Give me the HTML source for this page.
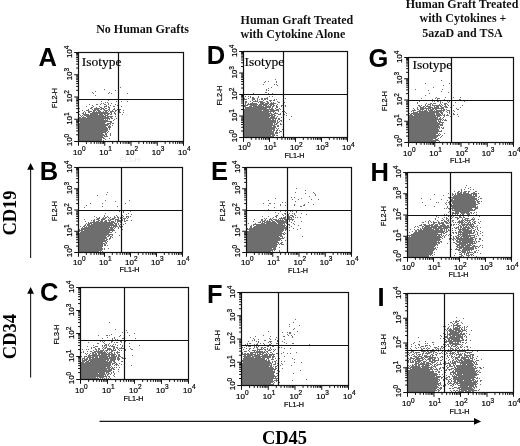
<!DOCTYPE html><html><head><meta charset="utf-8"><style>html,body{margin:0;padding:0;background:#fff;}svg{display:block;filter:blur(0.35px);}</style></head><body>
<svg width="520" height="446" viewBox="0 0 520 446">
<style>.t{font-family:"Liberation Sans",sans-serif;font-size:8px;fill:#000;stroke:#000;stroke-width:.2px}.s{font-size:6.5px}.a{font-family:"Liberation Sans",sans-serif;font-size:7.2px;fill:#000;stroke:#000;stroke-width:.2px;text-anchor:middle}.f{fill:#e6e6e6;stroke:none}</style>
<rect width="520" height="446" fill="#fff"/>
<g font-family="Liberation Serif, serif" font-weight="bold" font-size="12" fill="#111">
<text x="96.2" y="32.6">No Human Grafts</text>
<text x="240.6" y="23.8">Human Graft Treated</text>
<text x="240.6" y="38">with Cytokine Alone</text>
<text x="462" y="8" text-anchor="middle">Human Graft Treated</text>
<text x="463" y="22.3" text-anchor="middle">with Cytokines +</text>
<text x="462.5" y="36.5" text-anchor="middle">5azaD and TSA</text>
</g>
<g font-family="Liberation Sans, sans-serif" font-weight="bold" font-size="25.5" fill="#000">
<text x="38.5" y="65.8">A</text>
<text x="39.7" y="179.8">B</text>
<text x="40" y="301">C</text>
<text x="206.7" y="63.5">D</text>
<text x="211" y="180.3">E</text>
<text x="207" y="303">F</text>
<text x="368.5" y="67.2">G</text>
<text x="370.5" y="180.5">H</text>
<text x="377.5" y="305.8">I</text>
</g>
<g font-family="Liberation Serif, serif" font-weight="bold" font-size="18.5" fill="#000">
<text transform="translate(16 213) rotate(-90)" text-anchor="middle">CD19</text>
<text transform="translate(16 336.6) rotate(-90)" text-anchor="middle">CD34</text>
<text x="284.5" y="444.3" text-anchor="middle">CD45</text>
</g>
<path d="M30.6 258V168M30.6 377.6V292M99.5 421.4H475" stroke="#1a1a1a" stroke-width="1.1"/>
<path d="M30.6 163L27.2 169.8H34ZM30.6 287L27.2 293.8H34ZM481.1 421.4L474 418V424.8Z" fill="#000"/>
<path d="M120 87h1M104 89h1M115 90h1M95 91h1M92 92h1M109 92h1M93 93h1M108 93h1M111 93h1M127 93h1M95 95h1M108 100h1M101 101h1M116 101h1M121 101h1M127 101h1M105 102h1M107 102h1M101 103h1M103 103h1M108 103h1M111 103h1M89 104h1M96 104h2M100 104h1M104 104h2M108 104h1M115 104h1M118 104h1M92 105h1M106 105h1M110 105h1M117 105h1M86 106h1M93 106h1M99 106h1M104 106h3M108 106h1M113 106h2M121 106h1M91 107h2M96 107h1M100 107h2M104 107h1M108 107h2M79 108h1M90 108h2M94 108h6M101 108h3M105 108h2M109 108h1M114 108h1M88 109h1M92 109h1M94 109h5M100 109h2M103 109h2M108 109h2M113 109h2M117 109h1M119 109h2M82 110h1M86 110h3M93 110h3M97 110h3M104 110h4M109 110h1M112 110h1M115 110h2M119 110h1M123 110h1M79 111h1M84 111h1M88 111h4M93 111h2M96 111h1M98 111h3M103 111h1M105 111h2M108 111h1M110 111h4M115 111h1M119 111h1M83 112h1M85 112h1M88 112h2M92 112h16M110 112h2M114 112h1M119 112h2M123 112h1M82 113h2M85 113h1M90 113h20M111 113h1M114 113h2M79 114h1M83 114h6M90 114h8M99 114h4M104 114h2M107 114h2M110 114h2M115 114h1M118 114h1M122 114h1M80 115h1M82 115h1M84 115h20M105 115h3M81 116h1M83 116h1M86 116h20M107 116h6M115 116h1M79 117h2M82 117h4M87 117h22M110 117h2M79 118h31M111 118h2M116 118h1M118 118h1M79 119h25M105 119h1M107 119h1M109 119h1M114 119h1M79 120h29M113 120h1M79 121h33M80 122h26M110 122h2M79 123h26M107 123h4M112 123h2M79 124h30M110 124h1M79 125h29M109 125h1M112 125h1M79 126h27M108 126h3M79 127h28M108 127h3M79 128h29M109 128h1M79 129h29M109 129h1M79 130h29M79 131h28M108 131h1M79 132h27M107 132h1M79 133h24M105 133h2M110 133h1M79 134h25M105 134h2M110 134h1M79 135h26M106 135h1M110 135h1M79 136h24M104 136h4M79 137h25M79 138h23M103 138h2M109 138h1M79 139h23M105 139h1M79 140h23M103 140h1" stroke="#6e6e6e" stroke-width="1" fill="none" transform="translate(0 .5)" shape-rendering="crispEdges"/>
<path d="M78.5 141.5v4.3M78.5 141.5h-4.3M86.4 141.5v2.4M78.5 134.8h-2.4M91.02 141.5v2.4M78.5 130.88h-2.4M94.3 141.5v2.4M78.5 128.1h-2.4M96.85 141.5v2.4M78.5 125.95h-2.4M98.93 141.5v2.4M78.5 124.19h-2.4M100.68 141.5v2.4M78.5 122.7h-2.4M102.21 141.5v2.4M78.5 121.41h-2.4M103.55 141.5v2.4M78.5 120.27h-2.4M104.75 141.5v4.3M78.5 119.25h-4.3M112.65 141.5v2.4M78.5 112.55h-2.4M117.27 141.5v2.4M78.5 108.63h-2.4M120.55 141.5v2.4M78.5 105.85h-2.4M123.1 141.5v2.4M78.5 103.7h-2.4M125.18 141.5v2.4M78.5 101.94h-2.4M126.93 141.5v2.4M78.5 100.45h-2.4M128.46 141.5v2.4M78.5 99.16h-2.4M129.8 141.5v2.4M78.5 98.02h-2.4M131 141.5v4.3M78.5 97h-4.3M138.9 141.5v2.4M78.5 90.3h-2.4M143.52 141.5v2.4M78.5 86.38h-2.4M146.8 141.5v2.4M78.5 83.6h-2.4M149.35 141.5v2.4M78.5 81.45h-2.4M151.43 141.5v2.4M78.5 79.69h-2.4M153.18 141.5v2.4M78.5 78.2h-2.4M154.71 141.5v2.4M78.5 76.91h-2.4M156.05 141.5v2.4M78.5 75.77h-2.4M157.25 141.5v4.3M78.5 74.75h-4.3M165.15 141.5v2.4M78.5 68.05h-2.4M169.77 141.5v2.4M78.5 64.13h-2.4M173.05 141.5v2.4M78.5 61.35h-2.4M175.6 141.5v2.4M78.5 59.2h-2.4M177.68 141.5v2.4M78.5 57.44h-2.4M179.43 141.5v2.4M78.5 55.95h-2.4M180.96 141.5v2.4M78.5 54.66h-2.4M182.3 141.5v2.4M78.5 53.52h-2.4M183.5 141.5v4.3M78.5 52.5h-4.3" stroke="#111" stroke-width="1" fill="none"/>
<rect x="78.5" y="52.5" width="105" height="89" fill="none" stroke="#111" stroke-width="1.2"/>
<path d="M118.5 52.5V141.5M78.5 99.5H183.5" stroke="#111" stroke-width="1.2" fill="none"/>
<text class="t" x="73" y="154.5">10<tspan dy="-3.5" class="s">0</tspan></text>
<text class="t" x="99.25" y="154.5">10<tspan dy="-3.5" class="s">1</tspan></text>
<text class="t" x="125.5" y="154.5">10<tspan dy="-3.5" class="s">2</tspan></text>
<text class="t" x="151.75" y="154.5">10<tspan dy="-3.5" class="s">3</tspan></text>
<text class="t" x="178" y="154.5">10<tspan dy="-3.5" class="s">4</tspan></text>
<text class="t" transform="translate(72 146.3) rotate(-90)">10<tspan dy="-3.5" class="s">0</tspan></text>
<text class="t" transform="translate(72 124.85) rotate(-90)">10<tspan dy="-3.5" class="s">1</tspan></text>
<text class="t" transform="translate(72 102.6) rotate(-90)">10<tspan dy="-3.5" class="s">2</tspan></text>
<text class="t" transform="translate(72 80.35) rotate(-90)">10<tspan dy="-3.5" class="s">3</tspan></text>
<text class="t" transform="translate(72 58.1) rotate(-90)">10<tspan dy="-3.5" class="s">4</tspan></text>
<text class="a f" x="130" y="162">FL1-H</text>
<text class="a" transform="translate(56.5 98) rotate(-90)">FL2-H</text>
<text x="81.7" y="65.9" font-size="13.5" font-family="Liberation Serif, serif" fill="#000" stroke="#000" stroke-width=".15">Isotype</text>
<path d="M275 79h1M265 81h1M268 81h1M276 81h1M264 82h1M276 82h1M263 84h1M274 84h1M276 84h1M277 85h1M271 87h1M268 88h1M266 89h1M266 90h1M268 90h1M265 92h2M253 93h1M268 93h1M272 93h1M253 94h1M263 94h1M245 96h1M248 96h1M250 96h1M258 96h1M269 96h1M272 96h1M250 97h1M252 97h2M258 97h1M267 97h1M244 98h1M248 98h1M252 98h3M257 98h1M261 98h2M264 98h4M285 98h1M244 99h3M252 99h3M257 99h1M259 99h1M261 99h2M264 99h2M267 99h1M274 99h1M276 99h1M252 100h1M255 100h1M257 100h1M263 100h1M269 100h3M273 100h2M245 101h2M250 101h1M253 101h5M259 101h4M266 101h2M270 101h1M277 101h1M245 102h2M252 102h1M258 102h1M260 102h5M267 102h2M271 102h1M273 102h1M278 102h2M284 102h1M245 103h1M248 103h1M250 103h7M260 103h4M265 103h4M270 103h6M245 104h1M247 104h11M259 104h9M269 104h5M277 104h1M244 105h4M250 105h7M258 105h4M263 105h4M268 105h1M270 105h2M273 105h2M276 105h1M281 105h2M285 105h1M244 106h2M249 106h3M253 106h11M265 106h6M272 106h2M276 106h2M281 106h1M285 106h1M245 107h26M272 107h1M276 107h2M245 108h22M269 108h1M271 108h2M275 108h1M279 108h1M244 109h30M276 109h3M280 109h1M244 110h18M263 110h6M270 110h9M244 111h31M278 111h1M282 111h1M284 111h1M244 112h25M270 112h1M273 112h1M275 112h1M285 112h1M244 113h28M274 113h4M280 113h1M283 113h1M286 113h1M244 114h26M271 114h4M278 114h3M284 114h1M244 115h29M274 115h2M286 115h1M244 116h26M271 116h4M277 116h1M291 116h1M244 117h25M270 117h5M276 117h1M281 117h1M244 118h33M278 118h2M244 119h27M272 119h2M275 119h1M278 119h2M289 119h1M244 120h32M277 120h1M280 120h2M244 121h32M277 121h1M279 121h1M281 121h1M244 122h32M277 122h2M244 123h29M274 123h1M276 123h2M280 123h1M244 124h29M274 124h3M280 124h2M244 125h31M277 125h2M244 126h28M273 126h3M277 126h2M244 127h32M244 128h31M276 128h1M278 128h1M244 129h31M277 129h1M282 129h1M244 130h28M273 130h2M276 130h2M279 130h1M244 131h30M276 131h1M280 131h2M244 132h30M275 132h3M279 132h1M244 133h30M275 133h3M244 134h31M244 135h27M272 135h3M276 135h2M244 136h30M281 136h1" stroke="#6e6e6e" stroke-width="1" fill="none" transform="translate(0 .5)" shape-rendering="crispEdges"/>
<path d="M243.5 137.5v4.3M243.5 137.5h-4.3M251.33 137.5v2.4M243.5 131.03h-2.4M255.91 137.5v2.4M243.5 127.24h-2.4M259.15 137.5v2.4M243.5 124.56h-2.4M261.67 137.5v2.4M243.5 122.47h-2.4M263.73 137.5v2.4M243.5 120.77h-2.4M265.47 137.5v2.4M243.5 119.33h-2.4M266.98 137.5v2.4M243.5 118.08h-2.4M268.31 137.5v2.4M243.5 116.98h-2.4M269.5 137.5v4.3M243.5 116h-4.3M277.33 137.5v2.4M243.5 109.53h-2.4M281.91 137.5v2.4M243.5 105.74h-2.4M285.15 137.5v2.4M243.5 103.06h-2.4M287.67 137.5v2.4M243.5 100.97h-2.4M289.73 137.5v2.4M243.5 99.27h-2.4M291.47 137.5v2.4M243.5 97.83h-2.4M292.98 137.5v2.4M243.5 96.58h-2.4M294.31 137.5v2.4M243.5 95.48h-2.4M295.5 137.5v4.3M243.5 94.5h-4.3M303.33 137.5v2.4M243.5 88.03h-2.4M307.91 137.5v2.4M243.5 84.24h-2.4M311.15 137.5v2.4M243.5 81.56h-2.4M313.67 137.5v2.4M243.5 79.47h-2.4M315.73 137.5v2.4M243.5 77.77h-2.4M317.47 137.5v2.4M243.5 76.33h-2.4M318.98 137.5v2.4M243.5 75.08h-2.4M320.31 137.5v2.4M243.5 73.98h-2.4M321.5 137.5v4.3M243.5 73h-4.3M329.33 137.5v2.4M243.5 66.53h-2.4M333.91 137.5v2.4M243.5 62.74h-2.4M337.15 137.5v2.4M243.5 60.06h-2.4M339.67 137.5v2.4M243.5 57.97h-2.4M341.73 137.5v2.4M243.5 56.27h-2.4M343.47 137.5v2.4M243.5 54.83h-2.4M344.98 137.5v2.4M243.5 53.58h-2.4M346.31 137.5v2.4M243.5 52.48h-2.4M347.5 137.5v4.3M243.5 51.5h-4.3" stroke="#111" stroke-width="1" fill="none"/>
<rect x="243.5" y="51.5" width="104" height="86" fill="none" stroke="#111" stroke-width="1.2"/>
<path d="M283.5 51.5V137.5M243.5 94.5H347.5" stroke="#111" stroke-width="1.2" fill="none"/>
<text class="t" x="238" y="150">10<tspan dy="-3.5" class="s">0</tspan></text>
<text class="t" x="264" y="150">10<tspan dy="-3.5" class="s">1</tspan></text>
<text class="t" x="290" y="150">10<tspan dy="-3.5" class="s">2</tspan></text>
<text class="t" x="316" y="150">10<tspan dy="-3.5" class="s">3</tspan></text>
<text class="t" x="342" y="150">10<tspan dy="-3.5" class="s">4</tspan></text>
<text class="t" transform="translate(237 142.3) rotate(-90)">10<tspan dy="-3.5" class="s">0</tspan></text>
<text class="t" transform="translate(237 121.6) rotate(-90)">10<tspan dy="-3.5" class="s">1</tspan></text>
<text class="t" transform="translate(237 100.1) rotate(-90)">10<tspan dy="-3.5" class="s">2</tspan></text>
<text class="t" transform="translate(237 78.6) rotate(-90)">10<tspan dy="-3.5" class="s">3</tspan></text>
<text class="t" transform="translate(237 57.1) rotate(-90)">10<tspan dy="-3.5" class="s">4</tspan></text>
<text class="a" x="294.5" y="157.5">FL1-H</text>
<text class="a" transform="translate(221.5 95.5) rotate(-90)">FL2-H</text>
<text x="244.5" y="65.9" font-size="13.5" font-family="Liberation Serif, serif" fill="#000" stroke="#000" stroke-width=".15">Isotype</text>
<path d="M441 80h1M425 83h1M449 83h1M443 85h1M433 87h1M415 89h1M442 89h1M428 90h1M441 91h1M448 92h1M429 93h1M425 95h1M436 97h1M445 97h1M453 97h1M460 97h1M421 98h1M435 98h1M437 98h3M432 99h1M437 99h1M444 99h1M459 99h2M414 100h1M435 100h1M459 100h1M419 101h1M432 101h1M434 101h1M437 101h2M440 101h1M447 101h1M449 101h1M464 101h1M417 102h1M440 102h1M442 102h1M448 102h1M455 102h1M417 103h1M426 103h1M430 103h2M433 103h3M440 103h1M444 103h3M425 104h1M428 104h3M432 104h1M439 104h1M441 104h1M444 104h2M447 104h1M418 105h2M421 105h1M425 105h1M427 105h1M430 105h1M432 105h9M442 105h1M445 105h1M448 105h1M453 105h1M462 105h1M419 106h2M423 106h2M426 106h5M434 106h1M436 106h3M440 106h2M444 106h3M417 107h1M420 107h4M425 107h1M428 107h5M434 107h5M441 107h3M445 107h3M450 107h1M460 107h1M413 108h1M417 108h1M420 108h11M432 108h12M456 108h1M414 109h1M417 109h2M420 109h4M426 109h1M428 109h1M430 109h4M435 109h2M441 109h1M443 109h2M446 109h1M457 109h2M412 110h4M419 110h2M422 110h1M424 110h3M428 110h5M434 110h1M436 110h9M447 110h3M453 110h1M411 111h1M413 111h1M417 111h11M429 111h13M443 111h1M446 111h1M449 111h1M454 111h1M413 112h5M419 112h20M440 112h3M447 112h1M449 112h1M409 113h1M411 113h24M436 113h4M441 113h2M449 113h1M451 113h1M453 113h1M410 114h2M413 114h22M436 114h5M442 114h1M444 114h1M447 114h1M453 114h2M457 114h1M409 115h4M414 115h28M443 115h2M446 115h3M409 116h27M437 116h3M444 116h1M450 116h1M458 116h1M409 117h29M440 117h1M443 117h1M409 118h29M439 118h2M442 118h1M409 119h33M443 119h1M445 119h1M409 120h28M438 120h1M440 120h1M442 120h1M444 120h3M409 121h28M438 121h3M409 122h29M439 122h5M409 123h31M442 123h1M409 124h34M409 125h30M440 125h3M409 126h31M409 127h31M441 127h1M443 127h1M409 128h29M439 128h1M442 128h2M409 129h30M409 130h30M441 130h1M409 131h33M409 132h29M409 133h29M439 133h1M444 133h1M409 134h27M438 134h1M440 134h1M409 135h31M442 135h1M409 136h29M441 136h1M409 137h28M440 137h1M409 138h27M438 138h1M409 139h24M435 139h3M409 140h30M409 141h27M439 141h1" stroke="#6e6e6e" stroke-width="1" fill="none" transform="translate(0 .5)" shape-rendering="crispEdges"/>
<path d="M408.5 142.5v4.3M408.5 142.5h-4.3M416.4 142.5v2.4M408.5 136.1h-2.4M421.02 142.5v2.4M408.5 132.36h-2.4M424.3 142.5v2.4M408.5 129.71h-2.4M426.85 142.5v2.4M408.5 127.65h-2.4M428.93 142.5v2.4M408.5 125.96h-2.4M430.68 142.5v2.4M408.5 124.54h-2.4M432.21 142.5v2.4M408.5 123.31h-2.4M433.55 142.5v2.4M408.5 122.22h-2.4M434.75 142.5v4.3M408.5 121.25h-4.3M442.65 142.5v2.4M408.5 114.85h-2.4M447.27 142.5v2.4M408.5 111.11h-2.4M450.55 142.5v2.4M408.5 108.46h-2.4M453.1 142.5v2.4M408.5 106.4h-2.4M455.18 142.5v2.4M408.5 104.71h-2.4M456.93 142.5v2.4M408.5 103.29h-2.4M458.46 142.5v2.4M408.5 102.06h-2.4M459.8 142.5v2.4M408.5 100.97h-2.4M461 142.5v4.3M408.5 100h-4.3M468.9 142.5v2.4M408.5 93.6h-2.4M473.52 142.5v2.4M408.5 89.86h-2.4M476.8 142.5v2.4M408.5 87.21h-2.4M479.35 142.5v2.4M408.5 85.15h-2.4M481.43 142.5v2.4M408.5 83.46h-2.4M483.18 142.5v2.4M408.5 82.04h-2.4M484.71 142.5v2.4M408.5 80.81h-2.4M486.05 142.5v2.4M408.5 79.72h-2.4M487.25 142.5v4.3M408.5 78.75h-4.3M495.15 142.5v2.4M408.5 72.35h-2.4M499.77 142.5v2.4M408.5 68.61h-2.4M503.05 142.5v2.4M408.5 65.96h-2.4M505.6 142.5v2.4M408.5 63.9h-2.4M507.68 142.5v2.4M408.5 62.21h-2.4M509.43 142.5v2.4M408.5 60.79h-2.4M510.96 142.5v2.4M408.5 59.56h-2.4M512.3 142.5v2.4M408.5 58.47h-2.4M513.5 142.5v4.3M408.5 57.5h-4.3" stroke="#111" stroke-width="1" fill="none"/>
<rect x="408.5" y="57.5" width="105" height="85" fill="none" stroke="#111" stroke-width="1.2"/>
<path d="M451.5 57.5V142.5M408.5 100.5H513.5" stroke="#111" stroke-width="1.2" fill="none"/>
<text class="t" x="403" y="155.5">10<tspan dy="-3.5" class="s">0</tspan></text>
<text class="t" x="429.25" y="155.5">10<tspan dy="-3.5" class="s">1</tspan></text>
<text class="t" x="455.5" y="155.5">10<tspan dy="-3.5" class="s">2</tspan></text>
<text class="t" x="481.75" y="155.5">10<tspan dy="-3.5" class="s">3</tspan></text>
<text class="t" x="508" y="155.5">10<tspan dy="-3.5" class="s">4</tspan></text>
<text class="t" transform="translate(402 147.3) rotate(-90)">10<tspan dy="-3.5" class="s">0</tspan></text>
<text class="t" transform="translate(402 126.85) rotate(-90)">10<tspan dy="-3.5" class="s">1</tspan></text>
<text class="t" transform="translate(402 105.6) rotate(-90)">10<tspan dy="-3.5" class="s">2</tspan></text>
<text class="t" transform="translate(402 84.35) rotate(-90)">10<tspan dy="-3.5" class="s">3</tspan></text>
<text class="t" transform="translate(402 63.1) rotate(-90)">10<tspan dy="-3.5" class="s">4</tspan></text>
<text class="a" x="460" y="163">FL1-H</text>
<text class="a" transform="translate(386.5 101) rotate(-90)">FL2-H</text>
<text x="412.6" y="68.8" font-size="13.5" font-family="Liberation Serif, serif" fill="#000" stroke="#000" stroke-width=".15">Isotype</text>
<path d="M107 192h1M106 194h1M97 195h1M105 200h1M129 200h1M115 201h1M90 203h1M102 203h1M125 203h1M86 205h1M102 206h1M117 206h1M84 207h1M119 211h1M123 211h1M130 211h1M123 212h1M105 213h1M128 213h1M121 214h1M126 214h1M131 214h1M104 215h1M116 215h1M122 215h1M94 216h1M104 216h1M107 216h1M114 216h1M117 216h1M123 216h1M126 216h3M130 216h1M96 217h1M99 217h1M103 217h1M105 217h2M108 217h1M110 217h1M114 217h2M117 217h2M120 217h1M122 217h1M126 217h1M128 217h1M97 218h3M102 218h4M109 218h1M112 218h3M118 218h1M120 218h2M123 218h3M127 218h1M84 219h1M94 219h1M96 219h3M101 219h4M108 219h1M110 219h4M115 219h4M121 219h2M124 219h1M91 220h1M93 220h2M98 220h2M101 220h2M105 220h2M108 220h3M115 220h1M117 220h6M124 220h1M126 220h2M131 220h1M85 221h1M93 221h2M96 221h3M100 221h3M104 221h3M109 221h1M111 221h3M115 221h1M117 221h5M124 221h2M88 222h1M90 222h25M117 222h1M120 222h2M86 223h1M88 223h4M93 223h20M114 223h3M118 223h1M125 223h1M85 224h1M87 224h3M91 224h23M115 224h2M118 224h1M120 224h2M123 224h1M84 225h2M87 225h30M119 225h1M121 225h1M80 226h1M83 226h2M86 226h1M88 226h22M111 226h1M113 226h5M119 226h2M122 226h1M82 227h1M84 227h30M115 227h1M118 227h1M120 227h1M81 228h28M110 228h3M114 228h1M118 228h1M79 229h1M81 229h33M122 229h1M79 230h4M84 230h31M79 231h1M81 231h29M112 231h1M80 232h32M115 232h1M79 233h30M79 234h34M79 235h28M108 235h2M112 235h1M119 235h1M79 236h27M107 236h2M110 236h2M79 237h28M110 237h1M112 237h1M79 238h28M109 238h2M79 239h26M106 239h2M109 239h1M79 240h28M79 241h27M107 241h1M79 242h24M105 242h2M79 243h26M106 243h1M79 244h24M104 244h2M79 245h24M104 245h2M107 245h1M79 246h24M79 247h23M79 248h24M104 248h1M108 248h1M79 249h24M104 249h1M79 250h23M79 251h20M100 251h1M102 251h1" stroke="#6e6e6e" stroke-width="1" fill="none" transform="translate(0 .5)" shape-rendering="crispEdges"/>
<path d="M78.5 252.5v4.3M78.5 252.5h-4.3M86.33 252.5v2.4M78.5 246.1h-2.4M90.91 252.5v2.4M78.5 242.36h-2.4M94.15 252.5v2.4M78.5 239.71h-2.4M96.67 252.5v2.4M78.5 237.65h-2.4M98.73 252.5v2.4M78.5 235.96h-2.4M100.47 252.5v2.4M78.5 234.54h-2.4M101.98 252.5v2.4M78.5 233.31h-2.4M103.31 252.5v2.4M78.5 232.22h-2.4M104.5 252.5v4.3M78.5 231.25h-4.3M112.33 252.5v2.4M78.5 224.85h-2.4M116.91 252.5v2.4M78.5 221.11h-2.4M120.15 252.5v2.4M78.5 218.46h-2.4M122.67 252.5v2.4M78.5 216.4h-2.4M124.73 252.5v2.4M78.5 214.71h-2.4M126.47 252.5v2.4M78.5 213.29h-2.4M127.98 252.5v2.4M78.5 212.06h-2.4M129.31 252.5v2.4M78.5 210.97h-2.4M130.5 252.5v4.3M78.5 210h-4.3M138.33 252.5v2.4M78.5 203.6h-2.4M142.91 252.5v2.4M78.5 199.86h-2.4M146.15 252.5v2.4M78.5 197.21h-2.4M148.67 252.5v2.4M78.5 195.15h-2.4M150.73 252.5v2.4M78.5 193.46h-2.4M152.47 252.5v2.4M78.5 192.04h-2.4M153.98 252.5v2.4M78.5 190.81h-2.4M155.31 252.5v2.4M78.5 189.72h-2.4M156.5 252.5v4.3M78.5 188.75h-4.3M164.33 252.5v2.4M78.5 182.35h-2.4M168.91 252.5v2.4M78.5 178.61h-2.4M172.15 252.5v2.4M78.5 175.96h-2.4M174.67 252.5v2.4M78.5 173.9h-2.4M176.73 252.5v2.4M78.5 172.21h-2.4M178.47 252.5v2.4M78.5 170.79h-2.4M179.98 252.5v2.4M78.5 169.56h-2.4M181.31 252.5v2.4M78.5 168.47h-2.4M182.5 252.5v4.3M78.5 167.5h-4.3" stroke="#111" stroke-width="1" fill="none"/>
<rect x="78.5" y="167.5" width="104" height="85" fill="none" stroke="#111" stroke-width="1.2"/>
<path d="M121.5 167.5V252.5M78.5 210.5H182.5" stroke="#111" stroke-width="1.2" fill="none"/>
<text class="t" x="73" y="264.5">10<tspan dy="-3.5" class="s">0</tspan></text>
<text class="t" x="99" y="264.5">10<tspan dy="-3.5" class="s">1</tspan></text>
<text class="t" x="125" y="264.5">10<tspan dy="-3.5" class="s">2</tspan></text>
<text class="t" x="151" y="264.5">10<tspan dy="-3.5" class="s">3</tspan></text>
<text class="t" x="177" y="264.5">10<tspan dy="-3.5" class="s">4</tspan></text>
<text class="t" transform="translate(72 257.3) rotate(-90)">10<tspan dy="-3.5" class="s">0</tspan></text>
<text class="t" transform="translate(72 236.85) rotate(-90)">10<tspan dy="-3.5" class="s">1</tspan></text>
<text class="t" transform="translate(72 215.6) rotate(-90)">10<tspan dy="-3.5" class="s">2</tspan></text>
<text class="t" transform="translate(72 194.35) rotate(-90)">10<tspan dy="-3.5" class="s">3</tspan></text>
<text class="t" transform="translate(72 173.1) rotate(-90)">10<tspan dy="-3.5" class="s">4</tspan></text>
<text class="a" x="129.5" y="272">FL1-H</text>
<text class="a" transform="translate(56.5 211) rotate(-90)">FL2-H</text>
<path d="M296 188h1M305 190h1M295 192h1M313 192h1M305 193h1M314 193h1M315 194h1M315 195h1M309 196h1M291 197h1M294 197h1M275 198h1M301 198h1M292 199h1M298 199h1M311 199h1M318 199h1M268 200h1M295 201h1M282 202h1M285 202h1M308 202h1M263 203h1M269 203h2M274 203h1M280 204h1M294 204h1M304 204h1M313 204h1M268 205h1M280 205h1M285 205h1M294 205h1M303 205h2M300 206h2M274 207h1M268 209h1M288 210h1M294 210h1M280 211h1M285 211h1M287 211h1M290 211h1M292 211h1M296 211h1M275 212h1M287 212h1M296 212h1M278 213h1M284 213h2M289 213h1M292 213h1M294 213h1M301 213h1M282 214h1M285 214h1M287 214h2M294 214h1M306 214h1M276 215h2M283 215h1M287 215h2M290 215h3M295 215h1M262 216h1M268 216h1M275 216h2M285 216h1M287 216h3M292 216h2M273 217h1M276 217h1M281 217h1M283 217h3M287 217h5M293 217h1M295 217h1M297 217h1M300 217h1M264 218h1M266 218h1M270 218h1M272 218h1M279 218h7M288 218h2M291 218h1M254 219h1M261 219h2M265 219h1M269 219h3M273 219h4M278 219h1M280 219h1M282 219h1M284 219h10M261 220h2M264 220h2M267 220h1M269 220h1M271 220h2M275 220h9M285 220h3M289 220h1M292 220h1M253 221h1M260 221h1M262 221h3M266 221h5M272 221h3M276 221h11M289 221h1M294 221h1M301 221h1M258 222h3M262 222h1M264 222h12M277 222h11M291 222h1M248 223h1M255 223h1M261 223h4M266 223h11M278 223h7M286 223h2M293 223h1M253 224h30M284 224h1M288 224h2M294 224h1M251 225h1M253 225h1M256 225h30M287 225h1M289 225h1M298 225h1M250 226h2M254 226h31M286 226h2M291 226h1M250 227h2M253 227h35M289 227h1M247 228h1M249 228h38M293 228h1M300 228h1M247 229h37M285 229h2M297 229h1M249 230h35M285 230h1M287 230h1M289 230h1M247 231h36M287 231h1M247 232h35M284 232h1M247 233h37M285 233h1M247 234h35M283 234h2M247 235h35M287 235h1M247 236h32M280 236h3M302 236h1M247 237h33M282 237h1M284 237h1M247 238h37M247 239h34M247 240h33M281 240h1M285 240h1M247 241h31M247 242h32M281 242h2M247 243h30M278 243h1M280 243h2M247 244h31M279 244h1M281 244h3M247 245h30M247 246h30M247 247h29M279 247h1M247 248h25M273 248h3M247 249h29M247 250h26M274 250h1M279 250h1M247 251h24M272 251h1M279 251h1" stroke="#6e6e6e" stroke-width="1" fill="none" transform="translate(0 .5)" shape-rendering="crispEdges"/>
<path d="M246.5 252.5v4.3M246.5 252.5h-4.3M254.4 252.5v2.4M246.5 246.1h-2.4M259.02 252.5v2.4M246.5 242.36h-2.4M262.3 252.5v2.4M246.5 239.71h-2.4M264.85 252.5v2.4M246.5 237.65h-2.4M266.93 252.5v2.4M246.5 235.96h-2.4M268.68 252.5v2.4M246.5 234.54h-2.4M270.21 252.5v2.4M246.5 233.31h-2.4M271.55 252.5v2.4M246.5 232.22h-2.4M272.75 252.5v4.3M246.5 231.25h-4.3M280.65 252.5v2.4M246.5 224.85h-2.4M285.27 252.5v2.4M246.5 221.11h-2.4M288.55 252.5v2.4M246.5 218.46h-2.4M291.1 252.5v2.4M246.5 216.4h-2.4M293.18 252.5v2.4M246.5 214.71h-2.4M294.93 252.5v2.4M246.5 213.29h-2.4M296.46 252.5v2.4M246.5 212.06h-2.4M297.8 252.5v2.4M246.5 210.97h-2.4M299 252.5v4.3M246.5 210h-4.3M306.9 252.5v2.4M246.5 203.6h-2.4M311.52 252.5v2.4M246.5 199.86h-2.4M314.8 252.5v2.4M246.5 197.21h-2.4M317.35 252.5v2.4M246.5 195.15h-2.4M319.43 252.5v2.4M246.5 193.46h-2.4M321.18 252.5v2.4M246.5 192.04h-2.4M322.71 252.5v2.4M246.5 190.81h-2.4M324.05 252.5v2.4M246.5 189.72h-2.4M325.25 252.5v4.3M246.5 188.75h-4.3M333.15 252.5v2.4M246.5 182.35h-2.4M337.77 252.5v2.4M246.5 178.61h-2.4M341.05 252.5v2.4M246.5 175.96h-2.4M343.6 252.5v2.4M246.5 173.9h-2.4M345.68 252.5v2.4M246.5 172.21h-2.4M347.43 252.5v2.4M246.5 170.79h-2.4M348.96 252.5v2.4M246.5 169.56h-2.4M350.3 252.5v2.4M246.5 168.47h-2.4M351.5 252.5v4.3M246.5 167.5h-4.3" stroke="#111" stroke-width="1" fill="none"/>
<rect x="246.5" y="167.5" width="105" height="85" fill="none" stroke="#111" stroke-width="1.2"/>
<path d="M287.5 167.5V252.5M246.5 210.5H351.5" stroke="#111" stroke-width="1.2" fill="none"/>
<text class="t" x="241" y="264.5">10<tspan dy="-3.5" class="s">0</tspan></text>
<text class="t" x="267.25" y="264.5">10<tspan dy="-3.5" class="s">1</tspan></text>
<text class="t" x="293.5" y="264.5">10<tspan dy="-3.5" class="s">2</tspan></text>
<text class="t" x="319.75" y="264.5">10<tspan dy="-3.5" class="s">3</tspan></text>
<text class="t" x="346" y="264.5">10<tspan dy="-3.5" class="s">4</tspan></text>
<text class="t" transform="translate(240 257.3) rotate(-90)">10<tspan dy="-3.5" class="s">0</tspan></text>
<text class="t" transform="translate(240 236.85) rotate(-90)">10<tspan dy="-3.5" class="s">1</tspan></text>
<text class="t" transform="translate(240 215.6) rotate(-90)">10<tspan dy="-3.5" class="s">2</tspan></text>
<text class="t" transform="translate(240 194.35) rotate(-90)">10<tspan dy="-3.5" class="s">3</tspan></text>
<text class="t" transform="translate(240 173.1) rotate(-90)">10<tspan dy="-3.5" class="s">4</tspan></text>
<text class="a" x="298" y="272.5">FL1-H</text>
<text class="a" transform="translate(224.5 211) rotate(-90)">FL2-H</text>
<path d="M466 185h1M465 187h1M470 187h1M468 188h1M461 189h1M464 189h1M470 189h1M473 189h1M461 190h1M454 191h1M458 191h2M461 191h1M464 191h3M468 191h2M475 191h2M457 192h2M460 192h2M463 192h3M468 192h1M473 192h2M448 193h1M452 193h1M455 193h1M457 193h5M463 193h6M471 193h6M478 193h1M434 194h1M452 194h2M455 194h1M457 194h15M473 194h4M443 195h1M450 195h1M452 195h1M454 195h18M473 195h1M475 195h2M453 196h24M479 196h1M448 197h27M478 197h1M421 198h1M449 198h2M452 198h25M480 198h2M430 199h1M441 199h1M450 199h3M454 199h23M478 199h1M447 200h1M451 200h24M476 200h2M449 201h1M451 201h25M477 201h3M481 201h1M422 202h1M436 202h1M438 202h1M446 202h1M448 202h2M452 202h24M477 202h2M445 203h1M449 203h2M452 203h24M478 203h2M446 204h1M449 204h3M453 204h25M425 205h1M450 205h26M434 206h1M447 206h1M450 206h26M477 206h1M447 207h1M450 207h1M452 207h26M444 208h1M446 208h1M448 208h2M451 208h21M475 208h3M449 209h2M452 209h1M454 209h19M474 209h2M452 210h23M449 211h1M455 211h15M448 212h1M452 212h2M455 212h4M460 212h9M470 212h2M474 212h1M476 212h1M450 213h1M452 213h7M461 213h4M466 213h4M471 213h1M473 213h1M444 214h1M446 214h1M452 214h1M455 214h1M457 214h1M460 214h1M462 214h2M467 214h3M476 214h1M451 215h3M455 215h1M458 215h1M460 215h2M464 215h1M466 215h3M436 216h1M448 216h1M451 216h1M453 216h1M459 216h2M463 216h1M468 216h1M479 216h1M438 217h1M444 217h1M446 217h1M452 217h1M455 217h3M459 217h3M463 217h2M473 217h1M435 218h1M442 218h1M446 218h2M450 218h2M457 218h2M462 218h1M465 218h4M472 218h1M474 218h1M435 219h1M443 219h1M446 219h1M448 219h1M457 219h1M462 219h1M464 219h2M467 219h1M471 219h4M478 219h1M429 220h1M437 220h1M441 220h2M444 220h1M447 220h2M450 220h1M452 220h2M459 220h1M461 220h3M465 220h6M473 220h1M425 221h1M428 221h1M430 221h1M433 221h1M438 221h1M444 221h3M448 221h1M450 221h1M452 221h1M458 221h5M464 221h1M467 221h1M469 221h1M472 221h1M474 221h2M480 221h1M422 222h2M428 222h1M431 222h1M433 222h4M438 222h2M441 222h3M445 222h3M449 222h1M453 222h1M455 222h1M457 222h7M465 222h2M468 222h3M473 222h2M478 222h1M428 223h1M433 223h2M438 223h6M446 223h3M450 223h1M459 223h1M461 223h2M464 223h1M467 223h2M470 223h1M472 223h1M474 223h2M479 223h1M421 224h1M423 224h3M429 224h1M431 224h3M435 224h3M439 224h1M442 224h3M451 224h1M453 224h2M456 224h1M458 224h1M461 224h13M419 225h3M424 225h9M434 225h4M440 225h6M447 225h2M450 225h2M453 225h1M459 225h2M462 225h3M466 225h2M469 225h3M473 225h1M477 225h1M415 226h1M417 226h1M422 226h2M425 226h5M431 226h18M450 226h1M458 226h1M460 226h2M463 226h1M465 226h2M468 226h1M470 226h5M476 226h1M414 227h1M418 227h1M422 227h1M424 227h13M438 227h4M443 227h8M454 227h1M456 227h3M460 227h2M463 227h7M471 227h2M475 227h1M477 227h1M480 227h1M420 228h1M422 228h10M433 228h15M450 228h1M452 228h1M455 228h2M458 228h1M460 228h1M462 228h4M467 228h4M472 228h2M477 228h1M410 229h1M414 229h1M417 229h2M420 229h2M423 229h11M435 229h4M440 229h3M444 229h1M446 229h1M448 229h1M458 229h11M471 229h1M475 229h1M477 229h1M415 230h2M418 230h25M444 230h1M446 230h1M448 230h2M452 230h1M455 230h1M459 230h2M462 230h10M473 230h2M478 230h1M412 231h1M415 231h2M418 231h27M446 231h2M458 231h4M463 231h9M474 231h1M476 231h1M480 231h1M409 232h1M414 232h30M445 232h2M452 232h2M455 232h2M458 232h14M473 232h2M477 232h1M482 232h1M413 233h25M441 233h1M443 233h2M453 233h1M456 233h1M458 233h1M460 233h1M462 233h12M477 233h1M480 233h1M411 234h31M446 234h1M449 234h1M458 234h10M469 234h1M475 234h1M477 234h1M408 235h29M438 235h2M441 235h1M443 235h1M445 235h1M448 235h1M451 235h1M457 235h2M460 235h1M462 235h13M478 235h1M482 235h1M409 236h1M411 236h30M442 236h1M444 236h1M453 236h1M455 236h2M458 236h2M461 236h10M474 236h1M476 236h1M408 237h34M444 237h1M453 237h1M456 237h3M460 237h2M463 237h6M470 237h5M408 238h32M442 238h1M449 238h1M451 238h1M453 238h2M456 238h17M475 238h2M479 238h2M408 239h33M449 239h1M452 239h2M455 239h1M457 239h17M475 239h1M479 239h2M408 240h32M453 240h1M456 240h2M459 240h14M475 240h1M482 240h1M408 241h29M438 241h1M440 241h2M456 241h5M462 241h13M476 241h1M478 241h2M408 242h32M441 242h1M453 242h2M457 242h16M474 242h1M476 242h1M408 243h29M438 243h2M447 243h1M455 243h2M459 243h9M469 243h7M408 244h30M456 244h10M467 244h4M472 244h1M408 245h28M437 245h1M457 245h3M461 245h11M473 245h2M480 245h1M482 245h1M408 246h27M456 246h2M459 246h5M465 246h5M472 246h6M479 246h1M408 247h26M435 247h1M437 247h1M457 247h17M475 247h1M478 247h1M482 247h1M408 248h28M450 248h1M456 248h1M459 248h3M463 248h11M475 248h2M408 249h27M436 249h1M451 249h1M455 249h5M462 249h12M408 250h26M458 250h3M462 250h8M471 250h1M476 250h1M478 250h1M408 251h25M461 251h5M467 251h1M469 251h1M474 251h2M408 252h25M434 252h1M459 252h2M462 252h4M467 252h6M474 252h2M477 252h1M408 253h25M455 253h1M461 253h1M464 253h1M466 253h3M473 253h1M480 253h1M408 254h24M434 254h1M459 254h3M464 254h1M466 254h1M468 254h1M470 254h3M408 255h21M430 255h1M432 255h1M454 255h1M461 255h2M466 255h4M471 255h1M473 255h1M408 256h21M459 256h3M463 256h1M468 256h1M476 256h1" stroke="#6e6e6e" stroke-width="1" fill="none" transform="translate(0 .5)" shape-rendering="crispEdges"/>
<path d="M407.5 257.5v4.3M407.5 257.5h-4.3M415.33 257.5v2.4M407.5 251.1h-2.4M419.91 257.5v2.4M407.5 247.36h-2.4M423.15 257.5v2.4M407.5 244.71h-2.4M425.67 257.5v2.4M407.5 242.65h-2.4M427.73 257.5v2.4M407.5 240.96h-2.4M429.47 257.5v2.4M407.5 239.54h-2.4M430.98 257.5v2.4M407.5 238.31h-2.4M432.31 257.5v2.4M407.5 237.22h-2.4M433.5 257.5v4.3M407.5 236.25h-4.3M441.33 257.5v2.4M407.5 229.85h-2.4M445.91 257.5v2.4M407.5 226.11h-2.4M449.15 257.5v2.4M407.5 223.46h-2.4M451.67 257.5v2.4M407.5 221.4h-2.4M453.73 257.5v2.4M407.5 219.71h-2.4M455.47 257.5v2.4M407.5 218.29h-2.4M456.98 257.5v2.4M407.5 217.06h-2.4M458.31 257.5v2.4M407.5 215.97h-2.4M459.5 257.5v4.3M407.5 215h-4.3M467.33 257.5v2.4M407.5 208.6h-2.4M471.91 257.5v2.4M407.5 204.86h-2.4M475.15 257.5v2.4M407.5 202.21h-2.4M477.67 257.5v2.4M407.5 200.15h-2.4M479.73 257.5v2.4M407.5 198.46h-2.4M481.47 257.5v2.4M407.5 197.04h-2.4M482.98 257.5v2.4M407.5 195.81h-2.4M484.31 257.5v2.4M407.5 194.72h-2.4M485.5 257.5v4.3M407.5 193.75h-4.3M493.33 257.5v2.4M407.5 187.35h-2.4M497.91 257.5v2.4M407.5 183.61h-2.4M501.15 257.5v2.4M407.5 180.96h-2.4M503.67 257.5v2.4M407.5 178.9h-2.4M505.73 257.5v2.4M407.5 177.21h-2.4M507.47 257.5v2.4M407.5 175.79h-2.4M508.98 257.5v2.4M407.5 174.56h-2.4M510.31 257.5v2.4M407.5 173.47h-2.4M511.5 257.5v4.3M407.5 172.5h-4.3" stroke="#111" stroke-width="1" fill="none"/>
<rect x="407.5" y="172.5" width="104" height="85" fill="none" stroke="#111" stroke-width="1.2"/>
<path d="M450.5 172.5V257.5M407.5 215.5H511.5" stroke="#111" stroke-width="1.2" fill="none"/>
<text class="t" x="402" y="270.3">10<tspan dy="-3.5" class="s">0</tspan></text>
<text class="t" x="428" y="270.3">10<tspan dy="-3.5" class="s">1</tspan></text>
<text class="t" x="454" y="270.3">10<tspan dy="-3.5" class="s">2</tspan></text>
<text class="t" x="480" y="270.3">10<tspan dy="-3.5" class="s">3</tspan></text>
<text class="t" x="506" y="270.3">10<tspan dy="-3.5" class="s">4</tspan></text>
<text class="t" transform="translate(401 262.3) rotate(-90)">10<tspan dy="-3.5" class="s">0</tspan></text>
<text class="t" transform="translate(401 241.85) rotate(-90)">10<tspan dy="-3.5" class="s">1</tspan></text>
<text class="t" transform="translate(401 220.6) rotate(-90)">10<tspan dy="-3.5" class="s">2</tspan></text>
<text class="t" transform="translate(401 199.35) rotate(-90)">10<tspan dy="-3.5" class="s">3</tspan></text>
<text class="t" transform="translate(401 178.1) rotate(-90)">10<tspan dy="-3.5" class="s">4</tspan></text>
<text class="a" x="458.5" y="277.4">FL1-H</text>
<text class="a" transform="translate(385.5 216) rotate(-90)">FL2-H</text>
<path d="M109 322h1M115 329h1M126 330h1M122 332h1M127 332h1M134 333h1M111 334h1M98 335h1M106 335h2M109 335h1M120 335h1M124 335h1M129 335h1M119 336h1M107 337h1M114 337h1M102 338h1M112 338h1M114 338h1M122 338h2M135 338h1M112 339h1M115 339h1M117 339h1M102 340h2M105 340h1M113 340h1M117 340h1M128 340h1M100 341h1M102 341h1M104 341h1M111 341h2M120 341h2M125 341h1M88 342h1M103 342h1M111 342h1M114 342h1M116 342h2M121 342h1M97 343h2M104 343h1M109 343h1M129 343h1M105 344h2M108 344h1M113 344h1M115 344h1M120 344h1M93 345h1M102 345h1M104 345h3M108 345h1M110 345h1M112 345h1M117 345h1M122 345h1M139 345h1M87 346h1M95 346h3M102 346h1M104 346h1M106 346h1M109 346h1M111 346h4M122 346h1M129 346h1M91 347h1M93 347h2M103 347h1M105 347h2M113 347h2M116 347h2M121 347h1M91 348h1M95 348h1M98 348h2M102 348h1M104 348h2M107 348h4M113 348h2M117 348h1M119 348h6M130 348h1M82 349h1M86 349h1M88 349h1M95 349h2M98 349h2M103 349h1M107 349h5M113 349h1M115 349h1M118 349h1M125 349h1M131 349h2M93 350h1M96 350h1M98 350h1M100 350h4M105 350h3M109 350h1M111 350h5M119 350h1M121 350h1M125 350h1M83 351h1M87 351h1M90 351h2M94 351h9M104 351h1M106 351h1M111 351h2M117 351h1M81 352h1M83 352h1M92 352h4M97 352h9M107 352h1M109 352h3M114 352h1M116 352h4M124 352h1M85 353h1M87 353h1M90 353h1M92 353h2M95 353h2M98 353h9M108 353h2M111 353h2M114 353h1M117 353h1M86 354h1M89 354h1M92 354h5M98 354h2M101 354h15M118 354h2M88 355h19M108 355h2M111 355h4M116 355h1M118 355h2M132 355h1M81 356h1M84 356h3M88 356h3M92 356h6M99 356h11M111 356h6M118 356h3M84 357h1M87 357h7M95 357h3M99 357h9M109 357h7M117 357h2M121 357h2M82 358h3M86 358h2M89 358h2M92 358h24M117 358h3M122 358h2M125 358h1M82 359h1M84 359h4M89 359h20M110 359h6M117 359h3M82 360h5M88 360h18M107 360h2M110 360h5M118 360h1M82 361h3M86 361h3M90 361h18M109 361h3M113 361h2M121 361h2M81 362h3M85 362h27M114 362h2M81 363h30M112 363h3M116 363h1M119 363h1M81 364h30M112 364h1M115 364h3M121 364h1M81 365h30M114 365h1M116 365h1M118 365h1M131 365h1M81 366h29M111 366h1M81 367h25M107 367h4M112 367h1M114 367h1M116 367h1M119 367h1M81 368h29M111 368h3M81 369h26M108 369h4M113 369h2M118 369h1M81 370h31M81 371h30M113 371h1M118 371h1M81 372h24M106 372h3M111 372h1M113 372h1M81 373h17M99 373h6M106 373h1M108 373h2M111 373h1M114 373h1M81 374h25M107 374h2M110 374h1M114 374h1M81 375h23M105 375h1M107 375h1M113 375h1M81 376h26M108 376h2M114 376h1M81 377h15M97 377h1M99 377h5M106 377h1M109 377h1M81 378h18M100 378h1M102 378h1M104 378h1M106 378h1M108 378h1M110 378h1" stroke="#6e6e6e" stroke-width="1" fill="none" transform="translate(0 .5)" shape-rendering="crispEdges"/>
<path d="M80.5 379.5v4.3M80.5 379.5h-4.3M88.63 379.5v2.4M80.5 372.58h-2.4M93.38 379.5v2.4M80.5 368.53h-2.4M96.76 379.5v2.4M80.5 365.65h-2.4M99.37 379.5v2.4M80.5 363.42h-2.4M101.51 379.5v2.4M80.5 361.6h-2.4M103.32 379.5v2.4M80.5 360.06h-2.4M104.88 379.5v2.4M80.5 358.73h-2.4M106.26 379.5v2.4M80.5 357.55h-2.4M107.5 379.5v4.3M80.5 356.5h-4.3M115.63 379.5v2.4M80.5 349.58h-2.4M120.38 379.5v2.4M80.5 345.53h-2.4M123.76 379.5v2.4M80.5 342.65h-2.4M126.37 379.5v2.4M80.5 340.42h-2.4M128.51 379.5v2.4M80.5 338.6h-2.4M130.32 379.5v2.4M80.5 337.06h-2.4M131.88 379.5v2.4M80.5 335.73h-2.4M133.26 379.5v2.4M80.5 334.55h-2.4M134.5 379.5v4.3M80.5 333.5h-4.3M142.63 379.5v2.4M80.5 326.58h-2.4M147.38 379.5v2.4M80.5 322.53h-2.4M150.76 379.5v2.4M80.5 319.65h-2.4M153.37 379.5v2.4M80.5 317.42h-2.4M155.51 379.5v2.4M80.5 315.6h-2.4M157.32 379.5v2.4M80.5 314.06h-2.4M158.88 379.5v2.4M80.5 312.73h-2.4M160.26 379.5v2.4M80.5 311.55h-2.4M161.5 379.5v4.3M80.5 310.5h-4.3M169.63 379.5v2.4M80.5 303.58h-2.4M174.38 379.5v2.4M80.5 299.53h-2.4M177.76 379.5v2.4M80.5 296.65h-2.4M180.37 379.5v2.4M80.5 294.42h-2.4M182.51 379.5v2.4M80.5 292.6h-2.4M184.32 379.5v2.4M80.5 291.06h-2.4M185.88 379.5v2.4M80.5 289.73h-2.4M187.26 379.5v2.4M80.5 288.55h-2.4M188.5 379.5v4.3M80.5 287.5h-4.3" stroke="#111" stroke-width="1" fill="none"/>
<rect x="80.5" y="287.5" width="108" height="92" fill="none" stroke="#111" stroke-width="1.2"/>
<path d="M124.5 287.5V379.5M80.5 340.5H188.5" stroke="#111" stroke-width="1.2" fill="none"/>
<text class="t" x="75" y="392.5">10<tspan dy="-3.5" class="s">0</tspan></text>
<text class="t" x="102" y="392.5">10<tspan dy="-3.5" class="s">1</tspan></text>
<text class="t" x="129" y="392.5">10<tspan dy="-3.5" class="s">2</tspan></text>
<text class="t" x="156" y="392.5">10<tspan dy="-3.5" class="s">3</tspan></text>
<text class="t" x="183" y="392.5">10<tspan dy="-3.5" class="s">4</tspan></text>
<text class="t" transform="translate(74 384.3) rotate(-90)">10<tspan dy="-3.5" class="s">0</tspan></text>
<text class="t" transform="translate(74 362.1) rotate(-90)">10<tspan dy="-3.5" class="s">1</tspan></text>
<text class="t" transform="translate(74 339.1) rotate(-90)">10<tspan dy="-3.5" class="s">2</tspan></text>
<text class="t" transform="translate(74 316.1) rotate(-90)">10<tspan dy="-3.5" class="s">3</tspan></text>
<text class="t" transform="translate(74 293.1) rotate(-90)">10<tspan dy="-3.5" class="s">4</tspan></text>
<text class="a" x="133.5" y="400.5">FL1-H</text>
<text class="a" transform="translate(58.5 334.5) rotate(-90)">FL3-H</text>
<path d="M295 319h1M293 322h1M289 324h1M299 325h1M289 326h1M294 328h1M293 329h1M268 331h1M297 331h1M282 332h1M287 332h1M289 332h2M289 333h2M287 334h1M294 334h1M263 335h1M288 335h1M291 335h1M255 336h1M270 336h1M283 336h2M292 336h1M250 337h1M276 337h1M292 337h1M253 338h1M269 338h1M254 339h1M258 339h1M270 339h1M275 339h1M284 339h1M252 340h1M254 340h1M264 340h2M277 340h1M248 341h1M256 341h1M258 341h1M269 341h3M277 341h2M282 341h1M258 342h1M268 342h1M270 342h1M284 342h1M247 343h1M249 343h2M257 343h1M260 343h1M263 343h1M271 343h1M276 343h2M286 343h1M292 343h2M245 344h1M247 344h1M254 344h1M256 344h2M264 344h1M269 344h2M309 344h1M242 345h2M245 345h2M248 345h3M254 345h1M260 345h1M264 345h1M269 345h2M273 345h2M246 346h1M248 346h3M254 346h1M256 346h1M258 346h1M267 346h2M272 346h2M278 346h1M242 347h1M244 347h1M254 347h1M256 347h2M261 347h2M264 347h2M270 347h1M279 347h1M281 347h1M246 348h1M249 348h2M253 348h1M257 348h1M261 348h1M263 348h1M267 348h1M270 348h1M284 348h1M290 348h1M243 349h1M249 349h1M257 349h6M264 349h2M267 349h1M269 349h1M271 349h1M273 349h1M275 349h1M248 350h1M252 350h4M257 350h1M259 350h1M265 350h1M268 350h3M274 350h1M244 351h3M249 351h1M254 351h1M256 351h7M264 351h1M266 351h2M273 351h1M278 351h1M242 352h1M250 352h16M267 352h1M270 352h2M283 352h1M296 352h1M242 353h1M244 353h2M247 353h2M250 353h3M255 353h1M257 353h1M259 353h2M262 353h2M266 353h1M268 353h1M272 353h1M276 353h2M281 353h1M287 353h1M290 353h1M242 354h14M257 354h6M264 354h4M269 354h6M244 355h2M247 355h6M254 355h6M262 355h6M269 355h3M273 355h1M278 355h1M243 356h8M252 356h19M272 356h3M284 356h1M244 357h10M255 357h6M262 357h9M272 357h2M243 358h22M267 358h2M272 358h1M275 358h1M278 358h2M292 358h1M243 359h22M266 359h1M268 359h1M271 359h3M294 359h1M242 360h25M268 360h2M276 360h1M278 360h1M242 361h28M272 361h1M274 361h2M281 361h1M284 361h1M243 362h28M272 362h1M275 362h1M294 362h1M301 362h1M242 363h30M275 363h1M277 363h1M281 363h1M242 364h28M271 364h1M273 364h3M282 364h1M242 365h30M277 365h1M280 365h1M291 365h1M242 366h27M270 366h2M273 366h1M275 366h2M242 367h31M275 367h1M242 368h32M275 368h2M282 368h1M242 369h34M242 370h31M274 370h1M277 370h1M300 370h1M242 371h33M279 371h1M242 372h33M242 373h32M276 373h3M293 373h1M242 374h32M242 375h33M277 375h1M242 376h35M278 376h1M242 377h32M275 377h1M278 377h1M242 378h36M242 379h31M276 379h1M306 379h1M242 380h31M274 380h4M292 380h1M242 381h32M276 381h1M242 382h31M274 382h1M279 382h1M242 383h29M273 383h1M242 384h32" stroke="#6e6e6e" stroke-width="1" fill="none" transform="translate(0 .5)" shape-rendering="crispEdges"/>
<path d="M241.5 385.5v4.3M241.5 385.5h-4.3M249.55 385.5v2.4M241.5 378.5h-2.4M254.26 385.5v2.4M241.5 374.41h-2.4M257.61 385.5v2.4M241.5 371.5h-2.4M260.2 385.5v2.4M241.5 369.25h-2.4M262.32 385.5v2.4M241.5 367.41h-2.4M264.11 385.5v2.4M241.5 365.85h-2.4M265.66 385.5v2.4M241.5 364.5h-2.4M267.03 385.5v2.4M241.5 363.31h-2.4M268.25 385.5v4.3M241.5 362.25h-4.3M276.3 385.5v2.4M241.5 355.25h-2.4M281.01 385.5v2.4M241.5 351.16h-2.4M284.36 385.5v2.4M241.5 348.25h-2.4M286.95 385.5v2.4M241.5 346h-2.4M289.07 385.5v2.4M241.5 344.16h-2.4M290.86 385.5v2.4M241.5 342.6h-2.4M292.41 385.5v2.4M241.5 341.25h-2.4M293.78 385.5v2.4M241.5 340.06h-2.4M295 385.5v4.3M241.5 339h-4.3M303.05 385.5v2.4M241.5 332h-2.4M307.76 385.5v2.4M241.5 327.91h-2.4M311.11 385.5v2.4M241.5 325h-2.4M313.7 385.5v2.4M241.5 322.75h-2.4M315.82 385.5v2.4M241.5 320.91h-2.4M317.61 385.5v2.4M241.5 319.35h-2.4M319.16 385.5v2.4M241.5 318h-2.4M320.53 385.5v2.4M241.5 316.81h-2.4M321.75 385.5v4.3M241.5 315.75h-4.3M329.8 385.5v2.4M241.5 308.75h-2.4M334.51 385.5v2.4M241.5 304.66h-2.4M337.86 385.5v2.4M241.5 301.75h-2.4M340.45 385.5v2.4M241.5 299.5h-2.4M342.57 385.5v2.4M241.5 297.66h-2.4M344.36 385.5v2.4M241.5 296.1h-2.4M345.91 385.5v2.4M241.5 294.75h-2.4M347.28 385.5v2.4M241.5 293.56h-2.4M348.5 385.5v4.3M241.5 292.5h-4.3" stroke="#111" stroke-width="1" fill="none"/>
<rect x="241.5" y="292.5" width="107" height="93" fill="none" stroke="#111" stroke-width="1.2"/>
<path d="M278.5 292.5V385.5M241.5 345.5H348.5" stroke="#111" stroke-width="1.2" fill="none"/>
<text class="t" x="236" y="398.7">10<tspan dy="-3.5" class="s">0</tspan></text>
<text class="t" x="262.75" y="398.7">10<tspan dy="-3.5" class="s">1</tspan></text>
<text class="t" x="289.5" y="398.7">10<tspan dy="-3.5" class="s">2</tspan></text>
<text class="t" x="316.25" y="398.7">10<tspan dy="-3.5" class="s">3</tspan></text>
<text class="t" x="343" y="398.7">10<tspan dy="-3.5" class="s">4</tspan></text>
<text class="t" transform="translate(235 390.3) rotate(-90)">10<tspan dy="-3.5" class="s">0</tspan></text>
<text class="t" transform="translate(235 367.85) rotate(-90)">10<tspan dy="-3.5" class="s">1</tspan></text>
<text class="t" transform="translate(235 344.6) rotate(-90)">10<tspan dy="-3.5" class="s">2</tspan></text>
<text class="t" transform="translate(235 321.35) rotate(-90)">10<tspan dy="-3.5" class="s">3</tspan></text>
<text class="t" transform="translate(235 298.1) rotate(-90)">10<tspan dy="-3.5" class="s">4</tspan></text>
<text class="a" x="294" y="406.8">FL1-H</text>
<text class="a" transform="translate(219.5 340) rotate(-90)">FL3-H</text>
<path d="M456 317h1M463 318h1M456 320h1M459 320h1M453 321h1M455 321h4M450 322h2M455 322h2M461 322h1M452 323h1M454 323h1M457 323h2M462 323h1M448 324h1M453 324h1M456 324h2M444 325h1M451 325h1M453 325h8M443 326h1M445 326h1M449 326h1M453 326h1M457 326h3M464 326h1M467 326h1M448 327h1M453 327h1M455 327h3M459 327h2M462 327h1M464 327h1M466 327h1M447 328h2M450 328h1M453 328h7M461 328h1M464 328h1M445 329h1M447 329h1M449 329h3M453 329h7M461 329h2M464 329h1M466 329h1M446 330h1M448 330h6M455 330h6M462 330h4M471 330h1M447 331h1M449 331h8M458 331h5M466 331h1M444 332h1M447 332h1M450 332h10M461 332h1M443 333h1M447 333h1M449 333h10M460 333h2M463 333h2M466 333h1M444 334h2M447 334h18M469 334h1M440 335h1M444 335h1M447 335h1M449 335h2M452 335h9M462 335h1M465 335h1M441 336h1M445 336h3M450 336h5M456 336h7M464 336h1M466 336h1M418 337h1M444 337h4M449 337h14M466 337h1M440 338h1M443 338h1M447 338h13M461 338h2M444 339h2M448 339h2M451 339h9M462 339h2M466 339h1M446 340h1M448 340h4M453 340h11M465 340h2M470 340h1M419 341h1M425 341h1M444 341h17M414 342h1M432 342h2M445 342h2M449 342h4M455 342h1M457 342h2M460 342h1M462 342h2M466 342h1M413 343h1M425 343h1M427 343h1M449 343h10M465 343h1M411 344h1M418 344h2M433 344h1M443 344h1M445 344h1M447 344h2M450 344h1M452 344h9M462 344h1M415 345h1M419 345h1M425 345h3M429 345h1M446 345h1M448 345h1M451 345h2M455 345h2M461 345h1M411 346h1M421 346h3M425 346h1M430 346h1M438 346h1M441 346h2M445 346h1M448 346h2M451 346h1M453 346h3M457 346h1M460 346h1M462 346h1M466 346h2M415 347h1M418 347h1M420 347h1M427 347h1M434 347h3M441 347h1M443 347h1M450 347h1M456 347h1M458 347h1M460 347h2M464 347h1M467 347h1M470 347h1M410 348h1M416 348h1M421 348h1M423 348h2M426 348h1M428 348h2M435 348h1M437 348h2M440 348h1M442 348h1M444 348h1M450 348h3M455 348h1M457 348h2M411 349h1M421 349h2M427 349h1M432 349h2M436 349h1M438 349h1M440 349h1M448 349h1M450 349h1M452 349h2M455 349h2M459 349h1M462 349h1M464 349h1M467 349h2M412 350h4M417 350h2M420 350h3M425 350h2M429 350h1M431 350h1M433 350h1M437 350h1M442 350h1M449 350h3M457 350h2M460 350h1M464 350h1M466 350h2M470 350h1M472 350h1M411 351h3M421 351h5M427 351h2M430 351h5M438 351h1M442 351h1M445 351h1M447 351h5M455 351h1M457 351h9M472 351h1M477 351h1M408 352h1M410 352h2M413 352h1M415 352h5M423 352h1M426 352h1M428 352h4M433 352h1M435 352h2M441 352h1M444 352h1M446 352h1M450 352h1M452 352h3M457 352h2M465 352h7M409 353h1M414 353h1M416 353h1M422 353h2M425 353h5M433 353h1M437 353h1M439 353h2M442 353h1M446 353h2M449 353h5M455 353h1M458 353h1M460 353h1M462 353h1M464 353h1M467 353h1M469 353h1M408 354h1M412 354h2M416 354h1M418 354h3M422 354h1M427 354h1M431 354h2M435 354h2M445 354h1M450 354h1M452 354h1M454 354h1M456 354h6M464 354h2M470 354h4M409 355h1M411 355h1M414 355h1M417 355h1M419 355h1M422 355h1M424 355h3M430 355h1M432 355h2M436 355h1M447 355h1M449 355h1M451 355h1M456 355h1M459 355h3M464 355h7M472 355h2M413 356h4M418 356h4M424 356h7M432 356h1M441 356h2M444 356h1M447 356h1M451 356h2M454 356h1M458 356h2M462 356h1M464 356h1M466 356h2M469 356h2M472 356h1M477 356h1M410 357h2M415 357h4M421 357h3M425 357h3M429 357h7M437 357h1M440 357h1M442 357h1M444 357h1M448 357h1M451 357h1M453 357h1M455 357h5M461 357h8M470 357h1M472 357h2M408 358h1M410 358h5M416 358h7M424 358h1M428 358h5M434 358h2M438 358h1M444 358h1M446 358h1M452 358h1M455 358h3M461 358h5M468 358h1M470 358h3M476 358h1M409 359h2M413 359h1M415 359h5M422 359h2M425 359h1M427 359h4M432 359h3M438 359h1M442 359h1M444 359h1M449 359h1M453 359h1M455 359h1M457 359h2M460 359h2M463 359h7M472 359h1M474 359h1M481 359h1M408 360h1M410 360h1M412 360h1M414 360h2M417 360h6M426 360h1M429 360h2M432 360h7M440 360h2M444 360h1M448 360h1M452 360h2M456 360h1M458 360h5M464 360h9M476 360h3M408 361h1M410 361h1M412 361h2M415 361h6M423 361h3M429 361h4M434 361h2M445 361h1M450 361h1M452 361h1M454 361h4M459 361h1M461 361h13M475 361h1M408 362h1M410 362h4M415 362h2M418 362h2M421 362h1M423 362h2M426 362h3M431 362h4M437 362h1M440 362h1M445 362h1M448 362h1M450 362h1M452 362h4M457 362h15M473 362h2M476 362h1M415 363h4M420 363h5M426 363h5M432 363h1M436 363h1M440 363h1M443 363h7M451 363h5M460 363h13M474 363h1M476 363h1M412 364h1M414 364h3M418 364h11M430 364h2M434 364h2M437 364h5M445 364h1M449 364h2M453 364h1M455 364h1M460 364h1M462 364h4M467 364h7M475 364h3M408 365h1M410 365h1M412 365h2M415 365h2M418 365h2M422 365h2M425 365h5M432 365h1M434 365h1M436 365h2M447 365h1M449 365h2M453 365h2M456 365h18M409 366h1M411 366h9M421 366h8M431 366h1M433 366h3M444 366h1M446 366h1M449 366h4M454 366h1M456 366h17M474 366h2M408 367h1M410 367h11M422 367h11M435 367h1M440 367h1M442 367h3M447 367h2M454 367h2M457 367h17M475 367h1M477 367h1M479 367h2M483 367h1M408 368h3M412 368h17M430 368h2M433 368h1M436 368h1M439 368h2M443 368h1M447 368h1M451 368h3M455 368h22M480 368h2M410 369h23M434 369h4M439 369h1M446 369h1M448 369h4M454 369h21M408 370h22M432 370h1M437 370h1M441 370h1M445 370h2M449 370h1M453 370h1M455 370h20M476 370h2M479 370h1M408 371h26M435 371h2M438 371h2M452 371h2M455 371h22M478 371h1M408 372h26M438 372h2M445 372h1M450 372h6M457 372h19M477 372h1M479 372h2M408 373h29M444 373h1M450 373h1M453 373h3M457 373h20M408 374h30M439 374h1M442 374h1M450 374h2M453 374h1M455 374h7M463 374h16M408 375h29M446 375h1M452 375h1M454 375h1M456 375h21M408 376h27M436 376h5M443 376h1M448 376h2M452 376h5M458 376h17M408 377h32M441 377h2M446 377h2M449 377h1M453 377h23M477 377h1M408 378h30M441 378h1M445 378h2M451 378h1M453 378h21M476 378h2M479 378h1M408 379h32M443 379h1M446 379h2M449 379h2M453 379h18M472 379h3M408 380h30M439 380h1M443 380h1M448 380h1M451 380h1M454 380h2M457 380h6M464 380h10M475 380h1M477 380h1M480 380h2M408 381h31M448 381h2M451 381h1M453 381h3M457 381h15M473 381h5M480 381h1M408 382h30M440 382h1M448 382h1M450 382h1M454 382h4M459 382h18M408 383h33M447 383h1M449 383h3M453 383h2M456 383h20M477 383h1M408 384h31M440 384h1M445 384h1M448 384h1M452 384h2M455 384h1M457 384h1M460 384h17M480 384h1M408 385h29M438 385h2M441 385h1M443 385h1M445 385h1M450 385h2M453 385h1M458 385h16M475 385h1M408 386h30M443 386h2M452 386h1M460 386h8M469 386h5M475 386h2M408 387h31M440 387h2M454 387h3M458 387h14M473 387h2M476 387h1M408 388h29M439 388h3M449 388h2M452 388h2M457 388h3M461 388h12M474 388h1M408 389h28M437 389h2M440 389h1M459 389h15M479 389h1M408 390h29M438 390h2M450 390h1M453 390h2M456 390h2M459 390h1M461 390h6M468 390h9M478 390h1M408 391h27M438 391h1M444 391h1M451 391h1M455 391h1M458 391h6M465 391h6M472 391h2" stroke="#6e6e6e" stroke-width="1" fill="none" transform="translate(0 .5)" shape-rendering="crispEdges"/>
<path d="M407.5 392.5v4.3M407.5 392.5h-4.3M415.48 392.5v2.4M407.5 385.05h-2.4M420.14 392.5v2.4M407.5 380.69h-2.4M423.45 392.5v2.4M407.5 377.6h-2.4M426.02 392.5v2.4M407.5 375.2h-2.4M428.12 392.5v2.4M407.5 373.24h-2.4M429.9 392.5v2.4M407.5 371.58h-2.4M431.43 392.5v2.4M407.5 370.15h-2.4M432.79 392.5v2.4M407.5 368.88h-2.4M434 392.5v4.3M407.5 367.75h-4.3M441.98 392.5v2.4M407.5 360.3h-2.4M446.64 392.5v2.4M407.5 355.94h-2.4M449.95 392.5v2.4M407.5 352.85h-2.4M452.52 392.5v2.4M407.5 350.45h-2.4M454.62 392.5v2.4M407.5 348.49h-2.4M456.4 392.5v2.4M407.5 346.83h-2.4M457.93 392.5v2.4M407.5 345.4h-2.4M459.29 392.5v2.4M407.5 344.13h-2.4M460.5 392.5v4.3M407.5 343h-4.3M468.48 392.5v2.4M407.5 335.55h-2.4M473.14 392.5v2.4M407.5 331.19h-2.4M476.45 392.5v2.4M407.5 328.1h-2.4M479.02 392.5v2.4M407.5 325.7h-2.4M481.12 392.5v2.4M407.5 323.74h-2.4M482.9 392.5v2.4M407.5 322.08h-2.4M484.43 392.5v2.4M407.5 320.65h-2.4M485.79 392.5v2.4M407.5 319.38h-2.4M487 392.5v4.3M407.5 318.25h-4.3M494.98 392.5v2.4M407.5 310.8h-2.4M499.64 392.5v2.4M407.5 306.44h-2.4M502.95 392.5v2.4M407.5 303.35h-2.4M505.52 392.5v2.4M407.5 300.95h-2.4M507.62 392.5v2.4M407.5 298.99h-2.4M509.4 392.5v2.4M407.5 297.33h-2.4M510.93 392.5v2.4M407.5 295.9h-2.4M512.29 392.5v2.4M407.5 294.63h-2.4M513.5 392.5v4.3M407.5 293.5h-4.3" stroke="#111" stroke-width="1" fill="none"/>
<rect x="407.5" y="293.5" width="106" height="99" fill="none" stroke="#111" stroke-width="1.2"/>
<path d="M444.5 293.5V392.5M407.5 350.5H513.5" stroke="#111" stroke-width="1.2" fill="none"/>
<text class="t" x="402" y="406">10<tspan dy="-3.5" class="s">0</tspan></text>
<text class="t" x="428.5" y="406">10<tspan dy="-3.5" class="s">1</tspan></text>
<text class="t" x="455" y="406">10<tspan dy="-3.5" class="s">2</tspan></text>
<text class="t" x="481.5" y="406">10<tspan dy="-3.5" class="s">3</tspan></text>
<text class="t" x="508" y="406">10<tspan dy="-3.5" class="s">4</tspan></text>
<text class="t" transform="translate(401 397.3) rotate(-90)">10<tspan dy="-3.5" class="s">0</tspan></text>
<text class="t" transform="translate(401 373.35) rotate(-90)">10<tspan dy="-3.5" class="s">1</tspan></text>
<text class="t" transform="translate(401 348.6) rotate(-90)">10<tspan dy="-3.5" class="s">2</tspan></text>
<text class="t" transform="translate(401 323.85) rotate(-90)">10<tspan dy="-3.5" class="s">3</tspan></text>
<text class="t" transform="translate(401 299.1) rotate(-90)">10<tspan dy="-3.5" class="s">4</tspan></text>
<text class="a" x="459.5" y="414.2">FL1-H</text>
<text class="a" transform="translate(385.5 344) rotate(-90)">FL3-H</text>
</svg></body></html>
